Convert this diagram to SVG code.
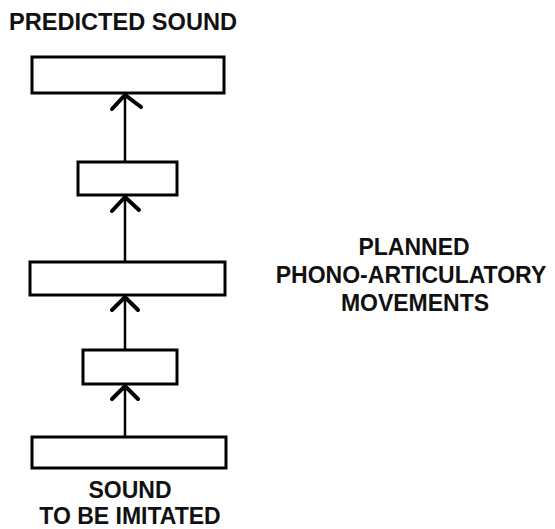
<svg xmlns="http://www.w3.org/2000/svg" width="555" height="529" viewBox="0 0 555 529">
<style>
.box{fill:#fff;stroke:#000;stroke-width:3}
.ln{fill:none;stroke:#000;stroke-width:2.5}
.hd{fill:none;stroke:#000;stroke-width:4;stroke-linecap:round;stroke-linejoin:miter}
.t{font-family:"Liberation Sans",Arial,sans-serif;font-weight:bold;font-size:23px;fill:#111;text-anchor:middle}
</style>
<rect width="555" height="529" fill="#fff"/>
<g id="connectors">
<line class="ln" x1="125" y1="437" x2="125" y2="386"/>
<path class="hd" d="M112,399 L125,386 L138,399"/>
<line class="ln" x1="125" y1="350" x2="125" y2="297"/>
<path class="hd" d="M112,310 L125,297 L138,310"/>
<line class="ln" x1="125" y1="262" x2="125" y2="197"/>
<path class="hd" d="M112,211 L125,197 L139,210"/>
<line class="ln" x1="125" y1="162" x2="125" y2="95"/>
<path class="hd" d="M112,109 L125,95 L141,107"/>
</g>
<g id="predicted-sound"><rect class="box" x="32" y="57" width="192" height="36"/></g>
<g id="stage2"><rect class="box" x="78" y="162" width="99" height="33"/></g>
<g id="stage3"><rect class="box" x="30" y="262" width="195" height="33"/></g>
<g id="stage4"><rect class="box" x="83" y="350" width="94" height="34"/></g>
<g id="sound-input"><rect class="box" x="32" y="437" width="194" height="31"/></g>
<g id="labels">
<text class="t" x="123" y="30" style="font-size:23.6px">PREDICTED SOUND</text>
<text class="t" x="414" y="255">PLANNED</text>
<text class="t" x="411" y="283">PHONO-ARTICULATORY</text>
<text class="t" x="415" y="311">MOVEMENTS</text>
<text class="t" x="130" y="498">SOUND</text>
<text class="t" x="130" y="524">TO BE IMITATED</text>
</g>
</svg>
